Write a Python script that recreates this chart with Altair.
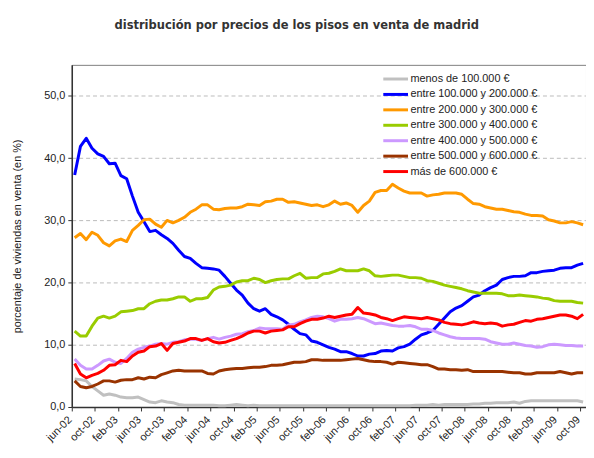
import altair as alt
import pandas as pd

series_names = [
    "menos de 100.000 €",
    "entre 100.000 y 200.000 €",
    "entre 200.000 y 300.000 €",
    "entre 300.000 y 400.000 €",
    "entre 400.000 y 500.000 €",
    "entre 500.000 y 600.000 €",
    "más de 600.000 €",
]
series_colors = ["#C0C0C0", "#0000FF", "#FF9900", "#99CC00", "#CC99FF", "#993300", "#FF0000"]

# one label every 4 months, first month jun-02, last oct-09 (89 monthly values)
tick_labels = ["jun-02", "oct-02", "feb-03", "jun-03", "oct-03", "feb-04", "jun-04", "oct-04",
               "feb-05", "jun-05", "oct-05", "feb-06", "jun-06", "oct-06", "feb-07", "jun-07",
               "oct-07", "feb-08", "jun-08", "oct-08", "feb-09", "jun-09", "oct-09"]

menos_100 = [4.5, 4.4, 4.2, 3.3, 2.6, 1.9, 2.1, 1.9, 1.6, 1.5, 1.5, 1.6, 1.2, 0.8, 0.7, 1.0, 0.8, 0.7, 0.4, 0.3,
             0.3, 0.3, 0.3, 0.3, 0.3, 0.2, 0.2, 0.3, 0.4, 0.3, 0.2, 0.3, 0.2, 0.2, 0.2, 0.2, 0.2, 0.2, 0.2, 0.2,
             0.2, 0.2, 0.2, 0.2, 0.2, 0.2, 0.2, 0.2, 0.2, 0.2, 0.2, 0.2, 0.2, 0.2, 0.2, 0.2, 0.2, 0.2, 0.2, 0.3,
             0.3, 0.3, 0.4, 0.3, 0.4, 0.4, 0.4, 0.4, 0.4, 0.5, 0.5, 0.6, 0.6, 0.7, 0.7, 0.7, 0.8, 0.6, 0.9, 1.0,
             1.0, 1.0, 1.0, 1.0, 1.0, 1.0, 1.0, 1.0, 0.8]
de_100_200 = [37.3, 41.9, 43.2, 41.6, 40.7, 40.3, 39.1, 39.2, 37.2, 36.7, 33.9, 31.3, 29.8, 28.2, 28.4, 27.7, 27.1, 26.3, 25.2, 24.2,
              23.9, 23.1, 22.4, 22.3, 22.2, 22.0, 21.0, 19.9, 18.8, 18.0, 16.7, 15.8, 15.4, 15.8, 14.9, 14.5, 14.0, 13.3, 12.5, 11.8,
              11.6, 10.6, 10.4, 10.0, 9.6, 9.3, 8.9, 8.9, 8.6, 8.2, 8.2, 8.5, 8.6, 9.0, 9.1, 9.0, 9.5, 9.7, 10.1, 10.9,
              11.6, 11.9, 12.3, 13.3, 14.3, 15.3, 15.9, 16.3, 17.0, 17.7, 18.0, 18.7, 19.2, 19.6, 20.5, 20.8, 21.0, 21.0, 21.1, 21.6,
              21.6, 21.8, 21.9, 22.0, 22.3, 22.4, 22.4, 22.8, 23.1]
de_200_300 = [27.2, 27.9, 26.9, 28.1, 27.6, 26.4, 25.9, 26.7, 27.0, 26.6, 28.4, 29.2, 30.1, 30.2, 29.4, 28.9, 30.0, 29.6, 30.0, 30.5,
              31.3, 31.8, 32.5, 32.5, 31.8, 31.7, 31.9, 32.0, 32.0, 32.2, 32.6, 32.5, 32.4, 33.0, 33.1, 33.4, 33.4, 32.9, 33.0, 32.8,
              32.6, 32.4, 32.5, 32.2, 32.5, 33.1, 32.6, 32.8, 32.4, 31.3, 32.4, 33.1, 34.5, 34.8, 34.8, 35.8, 35.2, 34.7, 34.4, 34.4,
              34.4, 33.9, 34.1, 34.2, 34.4, 34.4, 34.4, 34.2, 33.4, 32.7, 32.6, 32.2, 32.0, 31.8, 31.8, 31.6, 31.4, 31.3, 31.0, 30.8,
              30.8, 30.7, 30.1, 29.9, 29.6, 29.6, 29.8, 29.6, 29.3]
de_300_400 = [12.2, 11.4, 11.4, 13.0, 14.3, 14.6, 14.3, 14.6, 15.3, 15.4, 15.5, 15.8, 15.8, 16.6, 17.0, 17.2, 17.2, 17.4, 17.7, 17.7,
              17.0, 17.4, 17.4, 17.6, 18.8, 19.3, 19.4, 19.6, 20.1, 20.3, 20.3, 20.7, 20.5, 20.0, 20.3, 20.5, 20.6, 20.6, 21.1, 21.5,
              20.7, 20.8, 20.8, 21.4, 21.5, 21.8, 22.2, 21.9, 21.9, 21.9, 22.2, 21.9, 21.1, 21.0, 21.1, 21.2, 21.2, 21.0, 20.8, 20.8,
              20.7, 20.3, 20.2, 19.9, 19.6, 19.4, 19.2, 19.0, 18.7, 18.5, 18.3, 18.3, 18.3, 18.3, 18.2, 17.9, 17.9, 18.0, 17.9, 17.8,
              17.7, 17.5, 17.4, 17.1, 17.0, 17.0, 17.0, 16.8, 16.7]
de_400_500 = [7.7, 6.7, 6.1, 6.1, 6.7, 7.4, 7.7, 7.2, 7.0, 7.8, 8.8, 9.3, 9.6, 9.8, 10.1, 10.2, 10.1, 10.4, 10.5, 10.8,
              10.9, 10.9, 10.7, 11.0, 11.2, 10.9, 11.2, 11.4, 11.7, 11.8, 12.1, 12.3, 12.7, 12.6, 12.6, 12.6, 12.5, 13.2, 13.3, 13.7,
              14.0, 14.4, 14.6, 14.5, 14.2, 13.8, 14.1, 14.1, 14.2, 14.4, 14.2, 13.8, 13.4, 13.5, 13.3, 13.1, 13.0, 13.0, 13.1, 12.9,
              12.5, 12.5, 12.3, 11.9, 11.6, 11.3, 11.1, 11.0, 11.0, 11.0, 11.0, 10.9, 10.5, 10.3, 10.1, 10.1, 10.3, 10.1, 9.9, 9.8,
              9.6, 9.7, 10.0, 10.1, 10.0, 9.9, 9.9, 9.8, 9.8]
de_500_600 = [4.2, 3.3, 3.1, 3.3, 3.7, 4.2, 4.2, 4.0, 4.3, 4.4, 4.4, 4.7, 4.5, 4.8, 4.7, 5.2, 5.5, 5.8, 5.9, 5.8,
              5.8, 5.8, 5.8, 5.4, 5.3, 5.8, 6.0, 6.1, 6.2, 6.2, 6.3, 6.4, 6.4, 6.5, 6.7, 6.7, 6.8, 7.0, 7.2, 7.2,
              7.3, 7.6, 7.6, 7.5, 7.5, 7.5, 7.5, 7.6, 7.7, 7.8, 7.6, 7.4, 7.3, 7.3, 7.2, 6.9, 7.2, 7.1, 7.0, 6.9,
              6.8, 6.8, 6.5, 6.1, 6.1, 6.0, 6.0, 5.9, 6.0, 5.7, 5.7, 5.7, 5.7, 5.7, 5.7, 5.6, 5.5, 5.5, 5.3, 5.3,
              5.5, 5.5, 5.5, 5.5, 5.7, 5.5, 5.3, 5.5, 5.5]
mas_600 = [7.0, 5.3, 4.7, 5.1, 5.4, 5.9, 6.7, 6.8, 7.5, 7.3, 8.2, 8.8, 9.0, 9.7, 9.8, 10.2, 9.1, 10.2, 10.4, 10.6,
           11.0, 11.0, 10.7, 11.0, 10.5, 10.3, 10.4, 10.7, 11.0, 11.4, 11.9, 12.2, 12.2, 11.9, 12.2, 12.3, 12.4, 12.9, 12.9, 13.4,
           13.8, 14.1, 14.1, 14.3, 14.6, 14.4, 14.6, 14.8, 14.9, 16.0, 15.1, 15.0, 14.8, 14.4, 14.2, 13.9, 14.2, 14.5, 14.4, 14.3,
           14.2, 14.4, 14.2, 14.0, 13.6, 13.4, 13.3, 13.2, 13.4, 13.7, 13.5, 13.4, 13.5, 13.4, 13.0, 13.2, 13.3, 13.6, 13.9, 13.8,
           14.1, 14.2, 14.4, 14.6, 14.8, 14.8, 14.6, 14.2, 14.9]

all_series = [menos_100, de_100_200, de_200_300, de_300_400, de_400_500, de_500_600, mas_600]

rows = []
for name, vals in zip(series_names, all_series):
    for i, v in enumerate(vals):
        rows.append({"mes": i, "pct": v, "serie": name})
df = pd.DataFrame(rows)

n_months = len(menos_100)
label_list = "[" + ",".join("'" + t + "'" for t in tick_labels) + "]"
x_label_expr = label_list + "[round((datum.value + 0.5) / 4)]"
x_tick_values = [-0.5 + 4 * k for k in range(len(tick_labels))]

FONT = "Liberation Sans"

chart = alt.Chart(df).mark_line(strokeWidth=3, strokeJoin="round", strokeCap="butt").encode(
    x=alt.X(
        "mes:Q",
        scale=alt.Scale(domain=[-0.5, n_months - 0.5], nice=False, zero=False),
        axis=alt.Axis(
            values=x_tick_values, labelExpr=x_label_expr, labelAngle=-45, labelAlign="right",
            labelBaseline="middle", labelFont=FONT, labelFontSize=11, labelColor="#222",
            labelPadding=7, labelOffset=-2, labelOverlap=False, labelBound=False, labelFlush=False,
            tickSize=4, tickColor="#333", domainColor="#333", domainWidth=1.5, grid=False, title=None,
        ),
    ),
    y=alt.Y(
        "pct:Q",
        scale=alt.Scale(domain=[0, 55], nice=False),
        axis=alt.Axis(
            values=[0, 10, 20, 30, 40, 50],
            labelExpr="replace(format(datum.value, '.1f'), '.', ',')",
            labelFont=FONT, labelFontSize=11, labelColor="#222", labelPadding=3,
            tickSize=4, tickColor="#333", domainColor="#333", domainWidth=1.5,
            grid=True, gridDash=[4, 3], gridColor="#BBBBBB", gridWidth=1,
            title="porcentaje de viviendas en venta (en %)", titleFont=FONT, titleFontSize=11,
            titleFontWeight="normal", titleColor="#222", titleX=-54.5, titleBaseline="middle",
            titleAngle=-90, titleAlign="center",
        ),
    ),
    color=alt.Color(
        "serie:N",
        scale=alt.Scale(domain=series_names, range=series_colors),
        legend=alt.Legend(
            orient="none", legendX=322, legendY=8.8, title=None, padding=0,
            symbolType="M-4,0H4", symbolSize=39, symbolStrokeWidth=3, labelOffset=9.5,
            labelFont=FONT, labelFontSize=11, labelColor="#222", labelLimit=300, rowPadding=2.6,
        ),
    ),
).properties(
    width=520,
    height=346,
    autosize=alt.AutoSizeParams(type="none"),
    padding={"left": 64.5, "top": 55, "right": 0, "bottom": 44},
    title=alt.TitleParams(
        text="distribución por precios de los pisos en venta de madrid",
        anchor="start", frame="group", dx=43.2, offset=25, baseline="alphabetic",
        font="DejaVu Sans", fontSize=11.6, fontWeight="bold", color="#333",
    ),
).configure(background="#FFFFFF").configure_view(stroke="#808080", strokeWidth=1)

chart.save("out.html", embed_options={"renderer": "svg", "actions": False})
